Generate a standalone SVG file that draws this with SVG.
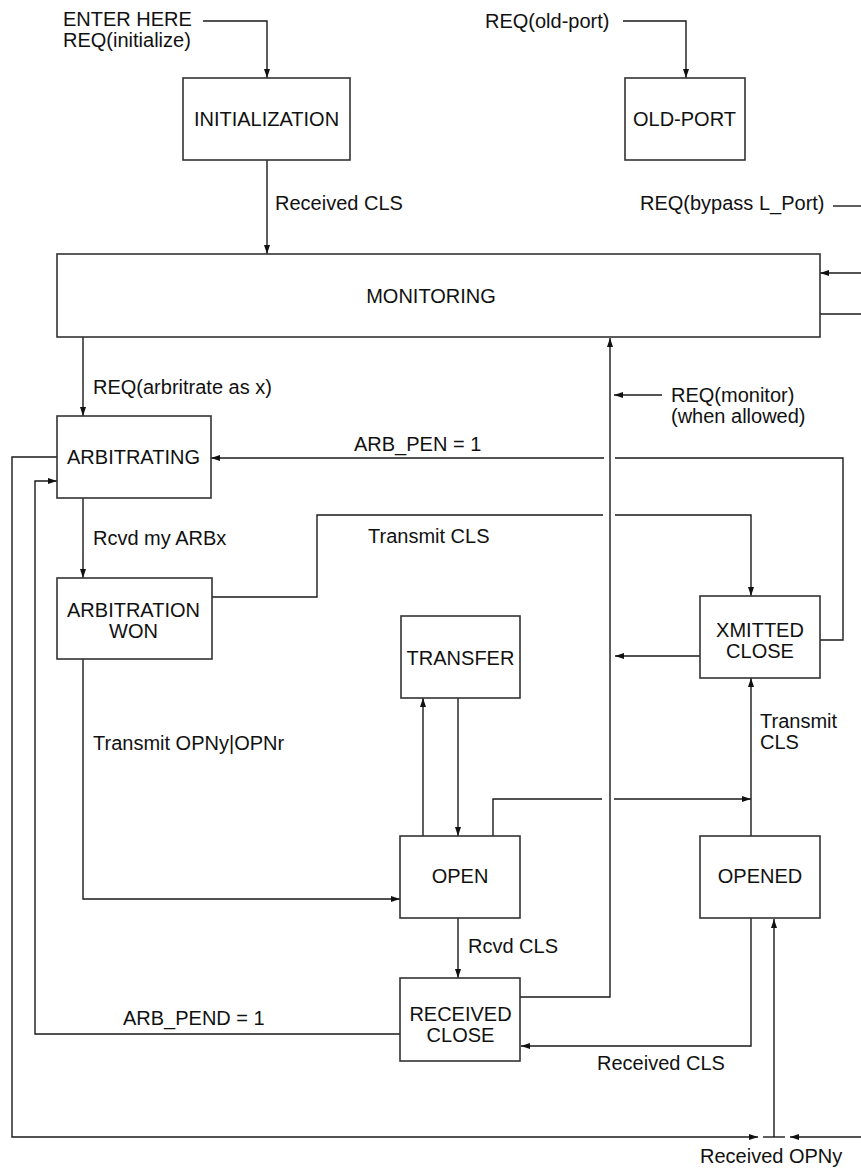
<svg xmlns="http://www.w3.org/2000/svg" width="861" height="1169" viewBox="0 0 861 1169">
<defs>
<marker id="ah" markerUnits="userSpaceOnUse" markerWidth="10" markerHeight="8" refX="9" refY="3" orient="auto">
<path d="M0,0 L9,3 L0,6 z" fill="#111"/>
</marker>
<style>
.box{fill:#fff;stroke:#333;stroke-width:1.6}
.ln{fill:none;stroke:#1a1a1a;stroke-width:1.4}
.ar{fill:none;stroke:#1a1a1a;stroke-width:1.4;marker-end:url(#ah)}
text{font-family:"Liberation Sans",Arial,Helvetica,sans-serif;font-size:20px;fill:#111}
.c{text-anchor:middle}
</style>
</defs>
<rect width="861" height="1169" fill="#fff"/>

<g id="connectors">
<polyline class="ar" points="203,21 267,21 267,78"/>
<polyline class="ar" points="623,21 686,21 686,78"/>
<line class="ar" x1="267" y1="160" x2="267" y2="254"/>
<line class="ln" x1="833" y1="206" x2="861" y2="206"/>
<line class="ar" x1="861" y1="273" x2="820" y2="273"/>
<line class="ln" x1="820" y1="314" x2="861" y2="314"/>
<line class="ar" x1="83" y1="337" x2="83" y2="416"/>
<line class="ar" x1="83" y1="498" x2="83" y2="578"/>
<polyline class="ar" points="83,659 83,899 400,899"/>
<polyline class="ln" points="212,597 317,597 317,515 603,515"/>
<polyline class="ar" points="615,515 751,515 751,596"/>
<polyline class="ln" points="820,640 843,640 843,458 615,458"/>
<line class="ar" x1="604" y1="458" x2="211" y2="458"/>
<line class="ar" x1="700" y1="656" x2="615" y2="656"/>
<polyline class="ar" points="520,997 610,997 610,338"/>
<line class="ar" x1="662" y1="395" x2="614" y2="395"/>
<line class="ar" x1="423" y1="836" x2="423" y2="698"/>
<line class="ar" x1="458" y1="698" x2="458" y2="836"/>
<polyline class="ln" points="493,836 493,799 602,799"/>
<line class="ar" x1="614" y1="799" x2="751" y2="799"/>
<line class="ar" x1="751" y1="836" x2="751" y2="678"/>
<line class="ar" x1="458" y1="918" x2="458" y2="978"/>
<polyline class="ar" points="751,918 751,1046 521,1046"/>
<polyline class="ar" points="400,1034 35,1034 35,481 57,481"/>
<polyline class="ar" points="57,457 12,457 12,1137 758,1137"/>
<line class="ar" x1="861" y1="1137" x2="790" y2="1137"/>
<line class="ln" x1="763" y1="1137" x2="785" y2="1137"/>
<line class="ar" x1="774" y1="1137" x2="774" y2="919"/>
</g>

<g id="initialization">
<rect class="box" x="183" y="78" width="167" height="82"/>
<text class="c" x="266.5" y="126">INITIALIZATION</text>
</g>
<g id="old-port">
<rect class="box" x="625" y="78" width="120" height="82"/>
<text class="c" x="684.5" y="126">OLD-PORT</text>
</g>
<g id="monitoring">
<rect class="box" x="57" y="254" width="763" height="83"/>
<text class="c" x="431" y="303">MONITORING</text>
</g>
<g id="arbitrating">
<rect class="box" x="57" y="416" width="154" height="82"/>
<text class="c" x="133.5" y="464">ARBITRATING</text>
</g>
<g id="arbitration-won">
<rect class="box" x="57" y="578" width="155" height="81"/>
<text class="c" x="133.5" y="617">ARBITRATION</text>
<text class="c" x="133.5" y="638">WON</text>
</g>
<g id="transfer">
<rect class="box" x="401" y="616" width="119" height="82"/>
<text class="c" x="460.5" y="665">TRANSFER</text>
</g>
<g id="xmitted-close">
<rect class="box" x="700" y="596" width="120" height="82"/>
<text class="c" x="760" y="637">XMITTED</text>
<text class="c" x="760" y="658">CLOSE</text>
</g>
<g id="open">
<rect class="box" x="400" y="836" width="120" height="82"/>
<text class="c" x="460" y="883">OPEN</text>
</g>
<g id="opened">
<rect class="box" x="700" y="836" width="120" height="82"/>
<text class="c" x="760" y="883">OPENED</text>
</g>
<g id="received-close">
<rect class="box" x="400" y="978" width="120" height="83"/>
<text class="c" x="460.5" y="1021">RECEIVED</text>
<text class="c" x="460.5" y="1042">CLOSE</text>
</g>

<g id="labels">
<text x="63" y="26">ENTER HERE</text>
<text x="63" y="47">REQ(initialize)</text>
<text x="485" y="28">REQ(old-port)</text>
<text x="275" y="210">Received CLS</text>
<text x="640" y="210">REQ(bypass L_Port)</text>
<text x="93" y="394">REQ(arbritrate as x)</text>
<text x="671" y="402">REQ(monitor)</text>
<text x="671" y="423">(when allowed)</text>
<text x="354" y="451">ARB_PEN = 1</text>
<text x="93" y="545">Rcvd my ARBx</text>
<text x="368" y="543">Transmit CLS</text>
<text x="93" y="750">Transmit OPNy|OPNr</text>
<text x="760" y="728">Transmit</text>
<text x="760" y="749">CLS</text>
<text x="468" y="953">Rcvd CLS</text>
<text x="123" y="1025">ARB_PEND = 1</text>
<text x="597" y="1070">Received CLS</text>
<text x="700" y="1163">Received OPNy</text>
</g>
</svg>
